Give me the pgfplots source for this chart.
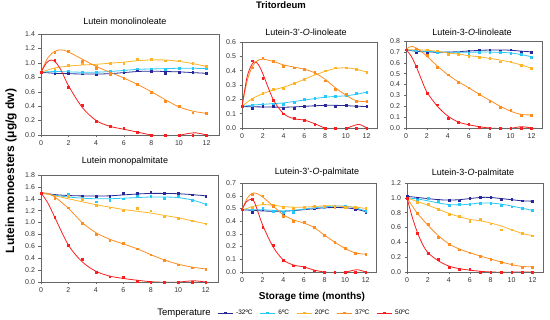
\documentclass[border=0pt]{standalone}
\usepackage{fontspec}
\setmainfont{Liberation Sans}
\usepackage{pgfplots}
\usepackage{pgfplotstable}
\pgfplotsset{compat=1.18}
\definecolor{cN}{RGB}{40,40,150}
\definecolor{cC}{RGB}{40,200,250}
\definecolor{cY}{RGB}{255,180,40}
\definecolor{cO}{RGB}{255,140,30}
\definecolor{cR}{RGB}{250,30,30}
\pgfplotsset{
 lut/.style={scale only axis, anchor=south west, xmin=0, ymin=0,
  axis line style={black!60}, tick style={black!60, thin}, tick align=outside,
  major tick length=2.5pt, xtick pos=bottom, ytick pos=left,
  xtick={0,2,4,6,8,10,12},
  tick label style={font=\fontsize{7}{8}\selectfont, color=black!80},
  /pgf/number format/assume math mode=true,
  yticklabel style={/pgf/number format/.cd, fixed, fixed zerofill, precision=1},
  clip mode=individual},
 ser/.style={color=#1, mark=square*, mark size=0.9pt, only marks, forget plot},
 cur/.style={color=#1, line width=0.8pt, smooth, no marks, forget plot},
}
\pgfplotstableread{
x n c y o r
0 .87 .87 .87 .87 .87
1 .85 .88 .92 1.15 1.04
2 .86 .89 .97 1.16 .66
3 .85 .87 1.00 1.02 .41
4 .84 .87 .96 .93 .19
5 .84 .88 .99 .84 .12
6 .875 .90 1.00 .79 .09
7 .89 .92 1.05 .70 .04
8 .885 .92 1.05 .59 .00
9 .86 .91 1.03 .47 .00
10 .875 .93 1.03 .40 .00
11 .865 .93 .99 .31 .00
12 .855 .92 .95 .30 .00
}\Ta
\pgfplotstableread{
x n c y o r
0 .15 .15 .15 .15 .15
1 .14 .16 .20 .42 .47
2 .15 .17 .24 .49 .345
3 .15 .17 .27 .465 .195
4 .14 .165 .28 .43 .10
5 .14 .18 .31 .42 .07
6 .15 .20 .34 .41 .055
7 .16 .21 .38 .39 .025
8 .16 .22 .40 .33 .00
9 .15 .22 .42 .27 .00
10 .16 .23 .42 .235 .00
11 .15 .24 .41 .185 .00
12 .15 .25 .39 .185 .00
}\Tb
\pgfplotstableread{
x n c y o r
0 .72 .72 .72 .72 .72
1 .70 .71 .73 .73 .57
2 .70 .71 .72 .67 .32
3 .70 .70 .71 .56 .215
4 .69 .68 .68 .49 .09
5 .70 .70 .68 .42 .055
6 .71 .69 .66 .37 .035
7 .72 .70 .65 .31 .01
8 .72 .70 .64 .25 .00
9 .71 .70 .61 .19 .00
10 .72 .69 .61 .16 .00
11 .70 .68 .58 .12 .00
12 .70 .65 .55 .12 .00
}\Tc
\pgfplotstableread{
x n c y o r
0 1.50 1.50 1.50 1.50 1.50
1 1.47 1.45 1.42 1.41 1.09
2 1.46 1.48 1.44 1.25 .615
3 1.45 1.41 1.39 .99 .39
4 1.44 1.35 1.29 .81 .17
5 1.44 1.38 1.25 .70 .09
6 1.49 1.40 1.20 .65 .08
7 1.50 1.44 1.24 .56 .02
8 1.51 1.44 1.20 .46 .00
9 1.49 1.41 1.10 .36 .00
10 1.50 1.44 1.07 .29 .00
11 1.47 1.38 1.03 .24 .00
12 1.45 1.31 .98 .22 .00
}\Td
\pgfplotstableread{
x n c y o r
0 .49 .49 .49 .49 .49
1 .47 .49 .51 .61 .57
2 .49 .50 .54 .60 .35
3 .48 .48 .53 .52 .21
4 .46 .47 .51 .44 .09
5 .48 .47 .50 .40 .05
6 .50 .50 .51 .39 .04
7 .50 .51 .52 .35 .01
8 .51 .51 .52 .29 .00
9 .51 .52 .51 .235 .00
10 .51 .52 .51 .19 .00
11 .49 .51 .51 .15 .00
12 .47 .48 .50 .14 .00
}\Te
\pgfplotstableread{
x n c y o r
0 1.02 1.00 1.00 1.00 1.00
1 1.00 .97 .94 .79 .52
2 .99 1.00 .91 .64 .25
3 .97 .95 .85 .47 .175
4 .97 .90 .78 .37 .07
5 .96 .91 .75 .30 .04
6 1.00 .91 .68 .26 .04
7 1.01 .93 .71 .21 .00
8 1.01 .93 .65 .17 .00
9 .98 .90 .57 .13 .00
10 .98 .88 .57 .10 .00
11 .96 .86 .52 .07 .00
12 .95 .83 .49 .07 .00
}\Tf
\begin{document}
\begin{tikzpicture}
\path[use as bounding box] (0,0) rectangle (550pt,-320pt);
% ---------- P1
\begin{axis}[lut, at={(41pt,-135pt)}, width=178pt, height=101pt, xmax=12.9, ymax=1.4,
  ytick={0,0.2,0.4,0.6,0.8,1.0,1.2,1.4}]
\addplot[cur=cN] coordinates {(0,.87)(1,.855)(2,.85)(3,.845)(4,.845)(5,.85)(6,.865)(7,.88)(8,.885)(9,.88)(10,.875)(11,.865)(12,.855)};
\addplot[ser=cN] table[y=n]{\Ta};
\addplot[cur=cC] coordinates {(0,.87)(1,.88)(2,.875)(3,.87)(4,.87)(5,.88)(6,.895)(7,.91)(8,.915)(9,.92)(10,.925)(11,.925)(12,.92)};
\addplot[ser=cC] table[y=c]{\Ta};
\addplot[cur=cY] coordinates {(0,.87)(0.5,.9)(1,.93)(2,.955)(3,.97)(4,.98)(5,.995)(6,1.01)(7,1.03)(8,1.04)(9,1.04)(10,1.02)(11,.99)(12,.95)};
\addplot[ser=cY] table[y=y]{\Ta};
\addplot[cur=cO] coordinates {(0,.87)(0.5,1.07)(1,1.16)(1.5,1.18)(2,1.15)(3,1.05)(4,.95)(5,.87)(6,.79)(7,.70)(8,.60)(9,.49)(10,.39)(11,.33)(12,.30)};
\addplot[ser=cO] table[y=o]{\Ta};
\addplot[cur=cR] coordinates {(0,.87)(0.4,1.0)(0.75,1.04)(1.1,1.0)(1.5,.88)(2,.68)(3,.38)(4,.20)(5,.12)(6,.08)(7,.04)(8,.0)(9,-.02)(10,-.005)(10.5,.015)(11.2,.03)(12,.0)};
\addplot[ser=cR] table[y=r]{\Ta};
\end{axis}
% ---------- P2
\begin{axis}[lut, at={(242pt,-128pt)}, width=135pt, height=86pt, xmax=13, ymax=0.6,
  ytick={0,0.1,0.2,0.3,0.4,0.5,0.6}]
\addplot[cur=cN] coordinates {(0,.15)(1,.148)(2,.147)(3,.146)(4,.145)(5,.147)(6,.151)(7,.155)(8,.158)(9,.158)(10,.156)(11,.152)(12,.15)};
\addplot[ser=cN] table[y=n]{\Tb};
\addplot[cur=cC] coordinates {(0,.15)(1,.16)(2,.165)(3,.17)(4,.175)(5,.185)(6,.195)(7,.205)(8,.215)(9,.22)(10,.225)(11,.235)(12,.25)};
\addplot[ser=cC] table[y=c]{\Tb};
\addplot[cur=cY] coordinates {(0,.15)(0.5,.18)(1,.205)(2,.24)(3,.265)(4,.285)(5,.31)(6,.34)(7,.37)(8,.395)(9,.415)(10,.42)(11,.41)(12,.39)};
\addplot[ser=cY] table[y=y]{\Tb};
\addplot[cur=cO] coordinates {(0,.15)(0.5,.33)(1,.43)(1.5,.47)(2,.48)(3,.465)(4,.44)(5,.425)(6,.41)(7,.385)(8,.34)(9,.28)(10,.23)(11,.19)(12,.185)};
\addplot[ser=cO] table[y=o]{\Tb};
\addplot[cur=cR] coordinates {(0,.15)(0.5,.36)(1,.45)(1.3,.46)(1.6,.44)(2,.38)(3,.2)(4,.1)(5,.065)(6,.055)(7,.03)(8,.0)(9,-.01)(10,-.005)(10.5,.01)(11.3,.025)(12,.0)};
\addplot[ser=cR] table[y=r]{\Tb};
\end{axis}
% ---------- P3
\begin{axis}[lut, at={(406pt,-128pt)}, width=136pt, height=87pt, xmax=13, ymax=0.8,
  ytick={0,0.1,0.2,0.3,0.4,0.5,0.6,0.7,0.8}]
\addplot[cur=cN] coordinates {(0,.72)(1,.705)(2,.70)(3,.697)(4,.698)(5,.702)(6,.708)(7,.714)(8,.717)(9,.718)(10,.715)(11,.707)(12,.70)};
\addplot[ser=cN] table[y=n]{\Tc};
\addplot[cur=cC] coordinates {(0,.72)(1,.71)(2,.705)(3,.70)(4,.697)(5,.697)(6,.697)(7,.698)(8,.698)(9,.695)(10,.69)(11,.675)(12,.655)};
\addplot[ser=cC] table[y=c]{\Tc};
\addplot[cur=cY] coordinates {(0,.72)(1,.72)(2,.715)(3,.705)(4,.69)(5,.68)(6,.665)(7,.655)(8,.64)(9,.625)(10,.605)(11,.58)(12,.55)};
\addplot[ser=cY] table[y=y]{\Tc};
\addplot[cur=cO] coordinates {(0,.72)(0.3,.745)(0.6,.75)(1,.735)(1.5,.70)(2,.66)(3,.57)(4,.49)(5,.425)(6,.37)(7,.31)(8,.255)(9,.20)(10,.155)(11,.125)(12,.12)};
\addplot[ser=cO] table[y=o]{\Tc};
\addplot[cur=cR] coordinates {(0,.72)(0.5,.66)(1,.56)(1.5,.44)(2,.33)(3,.2)(4,.11)(5,.055)(6,.03)(7,.012)(8,.0)(9,-.005)(10,-.003)(10.5,.005)(11.1,.012)(12,.0)};
\addplot[ser=cR] table[y=r]{\Tc};
\end{axis}
% ---------- P4
\begin{axis}[lut, at={(41pt,-282pt)}, width=177pt, height=107pt, xmax=12.9, ymax=1.8,
  ytick={0,0.2,0.4,0.6,0.8,1.0,1.2,1.4,1.6,1.8}]
\addplot[cur=cN] coordinates {(0,1.5)(1,1.47)(2,1.455)(3,1.448)(4,1.445)(5,1.45)(6,1.465)(7,1.48)(8,1.49)(9,1.49)(10,1.485)(11,1.47)(12,1.45)};
\addplot[ser=cN] table[y=n]{\Td};
\addplot[cur=cC] coordinates {(0,1.5)(1,1.46)(2,1.43)(3,1.41)(4,1.40)(5,1.40)(6,1.41)(7,1.42)(8,1.43)(9,1.43)(10,1.42)(11,1.38)(12,1.31)};
\addplot[ser=cC] table[y=c]{\Td};
\addplot[cur=cY] coordinates {(0,1.5)(1,1.45)(2,1.40)(3,1.35)(4,1.30)(5,1.26)(6,1.22)(7,1.19)(8,1.16)(9,1.12)(10,1.08)(11,1.03)(12,.98)};
\addplot[ser=cY] table[y=y]{\Td};
\addplot[cur=cO] coordinates {(0,1.5)(0.5,1.49)(1,1.43)(2,1.24)(3,1.0)(4,.83)(5,.72)(6,.64)(7,.56)(8,.46)(9,.37)(10,.30)(11,.25)(12,.22)};
\addplot[ser=cO] table[y=o]{\Td};
\addplot[cur=cR] coordinates {(0,1.5)(0.5,1.33)(1,1.09)(2,.62)(3,.34)(4,.18)(5,.10)(6,.06)(7,.03)(8,.005)(9,-.005)(10,-.002)(10.5,.01)(11.2,.02)(12,.0)};
\addplot[ser=cR] table[y=r]{\Td};
\end{axis}
% ---------- P5
\begin{axis}[lut, at={(242pt,-272pt)}, width=134pt, height=89pt, xmax=13, ymax=0.7,
  ytick={0,0.1,0.2,0.3,0.4,0.5,0.6,0.7},
  legend columns=5,
  legend style={at={(axis description cs:-0.185,-0.46)}, anchor=west, draw=none, fill=none,
    font=\fontsize{6.5}{7}\selectfont, inner sep=0pt, row sep=0pt,
    /tikz/every even column/.append style={column sep=5pt},
    /tikz/every odd column/.append style={column sep=1pt}},
  legend image code/.code={\draw[mark repeat=2,mark phase=2,#1] plot coordinates {(0pt,0pt) (7.5pt,0pt) (15pt,0pt)};}]
\addlegendimage{cN, mark=square*, mark size=0.9pt, line width=0.8pt}
\addlegendentry{-32ºC}
\addlegendimage{cC, mark=square*, mark size=0.9pt, line width=0.8pt}
\addlegendentry{6ºC}
\addlegendimage{cY, mark=square*, mark size=0.9pt, line width=0.8pt}
\addlegendentry{20ºC}
\addlegendimage{cO, mark=square*, mark size=0.9pt, line width=0.8pt}
\addlegendentry{37ºC}
\addlegendimage{cR, mark=square*, mark size=0.9pt, line width=0.8pt}
\addlegendentry{50ºC}
\addplot[cur=cN] coordinates {(0,.49)(1,.485)(2,.48)(3,.478)(4,.478)(5,.483)(6,.49)(7,.498)(8,.505)(9,.507)(10,.505)(11,.495)(12,.475)};
\addplot[ser=cN] table[y=n]{\Te};
\addplot[cur=cC] coordinates {(0,.49)(1,.49)(2,.49)(3,.485)(4,.48)(5,.485)(6,.495)(7,.505)(8,.513)(9,.518)(10,.518)(11,.505)(12,.48)};
\addplot[ser=cC] table[y=c]{\Te};
\addplot[cur=cY] coordinates {(0,.49)(0.5,.50)(1,.515)(2,.53)(3,.525)(4,.515)(5,.51)(6,.51)(7,.515)(8,.52)(9,.52)(10,.515)(11,.51)(12,.50)};
\addplot[ser=cY] table[y=y]{\Te};
\addplot[cur=cO] coordinates {(0,.49)(0.5,.58)(1,.62)(1.5,.615)(2,.59)(3,.52)(4,.45)(5,.41)(6,.385)(7,.35)(8,.29)(9,.235)(10,.185)(11,.15)(12,.14)};
\addplot[ser=cO] table[y=o]{\Te};
\addplot[cur=cR] coordinates {(0,.49)(0.4,.55)(0.8,.57)(1.2,.55)(2,.37)(3,.2)(4,.095)(5,.055)(6,.04)(7,.015)(8,.0)(9,-.008)(10,-.003)(10.5,.008)(11.2,.018)(12,.0)};
\addplot[ser=cR] table[y=r]{\Te};
\end{axis}
% ---------- P6
\begin{axis}[lut, at={(407pt,-272pt)}, width=136pt, height=89pt, xmax=13, ymax=1.2,
  ytick={0,0.2,0.4,0.6,0.8,1.0,1.2}]
\addplot[cur=cN] coordinates {(0,1.02)(1,1.005)(2,.99)(3,.975)(4,.97)(5,.975)(6,.99)(7,1.005)(8,1.005)(9,.99)(10,.975)(11,.96)(12,.955)};
\addplot[ser=cN] table[y=n]{\Tf};
\addplot[cur=cC] coordinates {(0,1.0)(1,.985)(2,.96)(3,.93)(4,.91)(5,.905)(6,.915)(7,.93)(8,.93)(9,.915)(10,.89)(11,.86)(12,.83)};
\addplot[ser=cC] table[y=c]{\Tf};
\addplot[cur=cY] coordinates {(0,1.0)(1,.95)(2,.90)(3,.845)(4,.79)(5,.745)(6,.71)(7,.69)(8,.66)(9,.62)(10,.57)(11,.52)(12,.49)};
\addplot[ser=cY] table[y=y]{\Tf};
\addplot[cur=cO] coordinates {(0,1.0)(0.5,.89)(1,.79)(2,.63)(3,.49)(4,.38)(5,.31)(6,.26)(7,.215)(8,.175)(9,.135)(10,.10)(11,.075)(12,.07)};
\addplot[ser=cO] table[y=o]{\Tf};
\addplot[cur=cR] coordinates {(0,1.0)(0.5,.74)(1,.53)(1.5,.37)(2,.26)(3,.15)(4,.08)(5,.045)(6,.025)(7,.01)(8,.0)(9,-.003)(10,-.002)(11,.0)(12,.0)};
\addplot[ser=cR] table[y=r]{\Tf};
\end{axis}
% ---------- texts
\node[font=\bfseries\fontsize{9.5}{11}\selectfont] at (281pt,-5.5pt) {Tritordeum};
\node[font=\fontsize{9}{10}\selectfont] at (125pt,-21pt) {Lutein monolinoleate};
\node[font=\fontsize{9}{10}\selectfont] at (306pt,-32pt) {Lutein-3'-\textit{O}-linoleate};
\node[font=\fontsize{9}{10}\selectfont] at (472pt,-32pt) {Lutein-3-\textit{O}-linoleate};
\node[font=\fontsize{9}{10}\selectfont] at (125pt,-161pt) {Lutein monopalmitate};
\node[font=\fontsize{9}{10}\selectfont] at (317pt,-172pt) {Lutein-3'-\textit{O}-palmitate};
\node[font=\fontsize{9}{10}\selectfont] at (473pt,-173pt) {Lutein-3-\textit{O}-palmitate};
\node[font=\bfseries\fontsize{12}{14}\selectfont, rotate=90] at (11pt,-171pt) {Lutein monoesters (μg/g dw)};
\node[font=\bfseries\fontsize{10}{12}\selectfont] at (312pt,-297pt) {Storage time (months)};
\node[font=\fontsize{9.5}{11}\selectfont] at (184pt,-313pt) {Temperature};
\end{tikzpicture}
\end{document}
